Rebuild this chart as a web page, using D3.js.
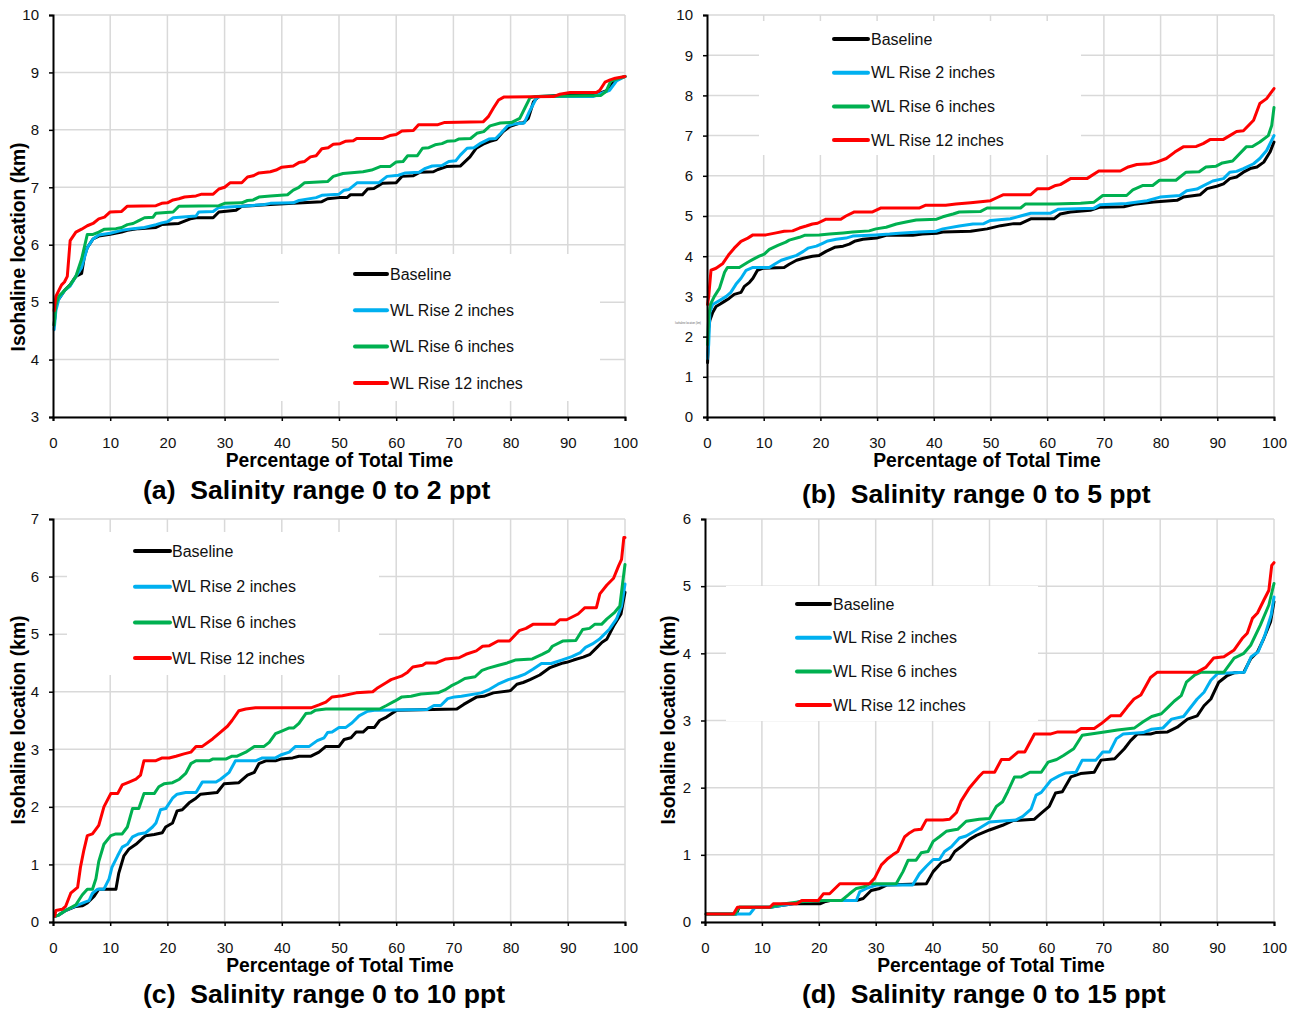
<!DOCTYPE html>
<html><head><meta charset="utf-8">
<script src="https://cdn.jsdelivr.net/npm/d3@7"></script>
<style>
body{margin:0;background:#fff;}
svg{display:block;font-family:"Liberation Sans",Arial,sans-serif;}
</style></head>
<body><svg id="chart" width="1299" height="1011"></svg>
<script>
// ---------------- DATA ----------------
const seriesNames = ["Baseline","WL Rise 2 inches","WL Rise 6 inches","WL Rise 12 inches"];
const panelTitles = ["(a)  Salinity range 0 to 2 ppt","(b)  Salinity range 0 to 5 ppt","(c)  Salinity range 0 to 10 ppt","(d)  Salinity range 0 to 15 ppt"];
const xTitle = "Percentage of Total Time";
const yTitle = "Isohaline location (km)";
const xTicks = [0,10,20,30,40,50,60,70,80,90,100];
const yTicksA = [3,4,5,6,7,8,9,10];
const yTicksB = [0,1,2,3,4,5,6,7,8,9,10];
const yTicksC = [0,1,2,3,4,5,6,7];
const yTicksD = [0,1,2,3,4,5,6];

const a_baseline = [[0.2,4.6],[0.5,5.0],[1,5.05],[2,5.2],[3,5.3],[4,5.45],[5,5.5],[5.5,5.8],[6,5.95],[7,6.1],[8,6.15],[10,6.18],[12,6.22],[13,6.25],[15,6.28],[18,6.3],[19,6.35],[22,6.37],[24,6.45],[25,6.47],[28,6.47],[29,6.57],[32,6.6],[33,6.67],[38,6.7],[42,6.72],[47,6.75],[48,6.8],[50,6.82],[51.4,6.82],[52,6.87],[54.1,6.87],[55,6.97],[56.1,6.98],[57.6,7.07],[60,7.08],[61,7.19],[63,7.2],[64.1,7.26],[66.5,7.27],[67.3,7.31],[68.8,7.36],[71.2,7.37],[72.9,7.53],[74,7.68],[75.2,7.75],[76.4,7.8],[77.5,7.83],[78.7,7.97],[79.9,8.06],[81.6,8.12],[82.2,8.12],[83.1,8.2],[84,8.49],[84.9,8.58],[88.6,8.6],[94.6,8.6],[95.2,8.62],[97,8.69],[98.1,8.85],[99.3,8.9],[100,8.93]];
const a_rise2 = [[0.2,4.52],[0.5,4.85],[1,5.05],[2,5.2],[3,5.28],[4,5.45],[5,5.6],[6,5.95],[7,6.1],[8,6.17],[10,6.2],[12,6.25],[14,6.28],[16,6.3],[18,6.35],[19,6.38],[20,6.4],[21,6.47],[25,6.5],[25.5,6.57],[28,6.58],[29,6.65],[33,6.67],[37,6.7],[38,6.72],[42,6.73],[43,6.77],[46,6.82],[47,6.86],[50,6.88],[50.9,6.95],[51.7,6.96],[53.2,7.08],[57,7.08],[58.4,7.19],[60.4,7.21],[61.6,7.25],[64,7.26],[65.1,7.33],[66.3,7.37],[68,7.38],[69.2,7.45],[70.4,7.46],[71.2,7.56],[72.4,7.68],[73.6,7.69],[74.8,7.77],[76.2,7.84],[77.4,7.85],[78.3,7.94],[79.5,8.07],[80.6,8.1],[82.4,8.12],[83.3,8.32],[84.5,8.55],[85.1,8.58],[94.4,8.58],[95.5,8.62],[97.3,8.69],[98.5,8.85],[100,8.93]];
const a_rise6 = [[0.2,4.6],[0.5,4.95],[1,5.1],[2,5.2],[3,5.3],[4,5.45],[5,5.75],[6,6.18],[7,6.18],[8,6.22],[9,6.27],[11,6.28],[12,6.3],[13,6.35],[14,6.37],[15,6.42],[16,6.47],[17.5,6.48],[18,6.55],[21,6.57],[22,6.67],[29,6.68],[30,6.72],[33,6.73],[34,6.77],[35,6.78],[36,6.83],[38,6.85],[41,6.87],[42,6.95],[43,7.0],[44,7.08],[48,7.1],[49,7.19],[50.7,7.24],[54.2,7.27],[55.7,7.3],[57.2,7.36],[58.9,7.36],[60,7.44],[61.2,7.45],[62,7.55],[63.7,7.55],[64.6,7.68],[65.7,7.69],[66.8,7.74],[68,7.76],[68.9,7.8],[70.3,7.81],[70.9,7.84],[73,7.85],[74.1,7.94],[75.3,7.97],[76.4,8.07],[78.2,8.12],[80.2,8.13],[81.6,8.2],[82.5,8.38],[83.4,8.56],[84.3,8.58],[95.8,8.6],[96.7,8.67],[97.5,8.85],[98.7,8.89],[100,8.93]];
const a_rise12 = [[0.2,4.85],[0.5,5.1],[1,5.2],[1.5,5.3],[2,5.35],[2.5,5.45],[3,6.07],[4,6.22],[5,6.27],[6,6.33],[7,6.37],[8,6.45],[9,6.48],[10,6.57],[12,6.58],[13,6.67],[18,6.68],[19,6.72],[20,6.73],[21,6.78],[22,6.8],[23,6.83],[25,6.85],[26,6.88],[28,6.88],[29,6.97],[30,7.0],[31,7.08],[33,7.08],[34,7.18],[35,7.2],[36,7.25],[38,7.27],[39,7.3],[40,7.35],[42,7.37],[43,7.43],[44,7.45],[45,7.53],[46,7.55],[47,7.67],[48.1,7.69],[49,7.75],[50.2,7.76],[51.1,7.8],[52.5,7.81],[53.1,7.85],[57.7,7.85],[58.9,7.9],[60,7.92],[61,7.98],[63,7.99],[63.9,8.09],[67.3,8.09],[68.5,8.13],[75.2,8.14],[76.1,8.23],[77,8.38],[77.9,8.52],[78.8,8.57],[87.5,8.58],[88.6,8.62],[90.4,8.65],[95,8.65],[95.6,8.69],[96.5,8.83],[97.4,8.87],[98.3,8.9],[100,8.93]];

const b_baseline = [[0.1,1.35],[0.3,2.2],[0.5,2.4],[1,2.6],[1.6,2.75],[2.2,2.8],[3,2.87],[3.9,2.95],[4.8,3.05],[6,3.1],[6.6,3.25],[7.5,3.35],[8.1,3.45],[8.9,3.65],[9.8,3.7],[13.6,3.72],[14.5,3.8],[15.8,3.9],[17,3.95],[18.6,4.0],[19.8,4.02],[21,4.12],[22.5,4.22],[24,4.25],[25.1,4.3],[26,4.37],[27.5,4.42],[29.9,4.45],[31.6,4.52],[36.3,4.52],[38,4.55],[40.5,4.57],[41.6,4.6],[46.5,4.62],[49.4,4.68],[51.8,4.76],[54.1,4.81],[55.3,4.81],[57.1,4.93],[61.2,4.93],[62.3,5.05],[64.1,5.1],[67.6,5.14],[69.3,5.22],[73.5,5.23],[75.3,5.29],[78.8,5.35],[82.9,5.39],[84,5.47],[87,5.53],[88.2,5.68],[89.9,5.74],[91.1,5.8],[92.2,5.93],[93.4,5.97],[94.6,6.09],[95.8,6.18],[97,6.22],[98.2,6.34],[99.3,6.59],[100,6.84]];
const b_rise2 = [[0.1,1.45],[0.3,1.8],[0.5,2.6],[1,2.8],[2.2,2.9],[3.4,3.0],[4.2,3.1],[5.1,3.3],[6,3.45],[6.9,3.65],[8.1,3.72],[11,3.72],[11.9,3.8],[13.1,3.9],[14.2,3.95],[15.8,4.02],[17,4.12],[17.8,4.2],[19.3,4.25],[20.4,4.32],[21.3,4.38],[22.8,4.42],[24.5,4.45],[25.7,4.5],[29.8,4.53],[32.2,4.55],[33.9,4.57],[37.4,4.6],[40.4,4.62],[41.6,4.68],[44.5,4.75],[46.9,4.8],[48.8,4.81],[50,4.89],[53.5,4.93],[55.3,5.0],[57.1,5.07],[60.6,5.07],[62,5.17],[68.2,5.19],[69.3,5.28],[74,5.31],[77.6,5.38],[79.9,5.47],[83.4,5.51],[84.6,5.63],[86.4,5.67],[87.5,5.75],[89.2,5.87],[91.1,5.93],[92.2,6.09],[93.4,6.11],[94.6,6.18],[96.4,6.3],[97.5,6.43],[98.7,6.63],[100,7.0]];
const b_rise6 = [[0.1,1.8],[0.3,2.5],[0.6,2.8],[1.3,3.0],[2.2,3.2],[3.1,3.6],[3.6,3.72],[5.7,3.72],[7.2,3.85],[8.1,3.92],[9.2,4.0],[10.1,4.05],[11,4.17],[12.5,4.27],[13.9,4.35],[14.5,4.4],[16.3,4.47],[17.2,4.52],[19.8,4.53],[21.6,4.55],[24,4.58],[25.7,4.6],[28.6,4.63],[29.8,4.68],[31.6,4.72],[33.4,4.8],[35.1,4.85],[36.9,4.9],[40.5,4.92],[41.6,4.98],[43.4,5.05],[44.5,5.1],[48.2,5.11],[49.4,5.2],[55.3,5.2],[56.2,5.3],[61.2,5.3],[65.9,5.32],[68.2,5.34],[69.8,5.51],[74,5.51],[75.1,5.65],[76.9,5.76],[78.6,5.76],[79.8,5.89],[82.7,5.89],[84.5,6.09],[86.8,6.1],[88,6.22],[89.8,6.24],[90.9,6.32],[92.7,6.37],[95.1,6.72],[96.2,6.73],[97.5,6.84],[99,7.0],[99.6,7.25],[100,7.7]];
const b_rise12 = [[0.1,2.8],[0.3,3.0],[0.7,3.65],[1.6,3.7],[2.8,3.82],[3.9,4.05],[4.8,4.2],[6,4.37],[7.2,4.45],[8.1,4.53],[10.4,4.53],[12.2,4.58],[13.6,4.62],[15.1,4.63],[16.3,4.7],[17.5,4.75],[18.6,4.8],[19.5,4.82],[21,4.92],[23.6,4.92],[24.5,5.0],[26,5.1],[29.2,5.1],[30.7,5.2],[37.5,5.2],[38.6,5.27],[42.1,5.27],[43.9,5.3],[46.5,5.33],[50,5.38],[51.2,5.46],[52.3,5.53],[57.1,5.53],[58.3,5.68],[60.3,5.68],[61.5,5.76],[62.3,5.78],[64.1,5.93],[67,5.93],[69.1,6.12],[72.9,6.12],[74.3,6.22],[75.8,6.28],[78.1,6.3],[79.3,6.34],[81,6.43],[82.5,6.59],[84,6.72],[86.3,6.73],[87.5,6.8],[88.7,6.9],[91,6.9],[92.2,7.0],[93.4,7.1],[94.6,7.12],[96.4,7.38],[97.5,7.8],[98.7,7.92],[100,8.17]];

const c_baseline = [[0.3,0.1],[1,0.12],[2.2,0.2],[4,0.27],[5.1,0.28],[6,0.33],[7.2,0.45],[8,0.57],[11,0.57],[11.5,0.85],[12.4,1.15],[13.3,1.27],[14.5,1.35],[15.6,1.45],[16.2,1.5],[17.7,1.52],[19.1,1.55],[19.7,1.65],[20.9,1.72],[21.7,1.93],[22.6,1.95],[23.8,2.07],[25,2.15],[25.8,2.22],[28.7,2.25],[29.9,2.4],[32.5,2.42],[34,2.55],[35.2,2.6],[36,2.75],[37.2,2.8],[38.9,2.8],[39.8,2.83],[41.9,2.85],[43,2.88],[45.1,2.88],[46.5,2.95],[47.7,3.05],[50,3.05],[50.9,3.17],[52.1,3.2],[53,3.3],[54.2,3.3],[55.1,3.38],[56.2,3.38],[57.1,3.5],[58.3,3.56],[60.1,3.68],[70.6,3.7],[71.8,3.78],[74.1,3.91],[75.3,3.92],[77,3.98],[80,4.02],[81.1,4.13],[82.2,4.16],[83.4,4.21],[85.1,4.29],[86.9,4.42],[88,4.46],[89.2,4.5],[89.8,4.51],[91,4.55],[92.7,4.6],[93.9,4.65],[95.1,4.77],[96,4.86],[96.8,4.91],[98,5.14],[99.3,5.35],[100,5.73]];
const c_rise2 = [[0.3,0.1],[1,0.12],[2.2,0.2],[4.5,0.3],[5.7,0.35],[6.3,0.37],[6.9,0.5],[7.8,0.57],[8.9,0.57],[9.8,0.75],[10.3,0.95],[11.3,1.15],[12.1,1.3],[13,1.35],[13.9,1.48],[15,1.53],[16.2,1.55],[17.4,1.65],[18,1.72],[18.8,1.95],[19.7,1.97],[20.9,2.15],[21.7,2.22],[23.2,2.25],[25,2.25],[26.1,2.43],[28.5,2.43],[29.3,2.48],[30.8,2.6],[31.9,2.8],[35.4,2.8],[36.6,2.85],[38.9,2.85],[39.8,2.9],[41.3,2.95],[42.4,3.05],[44.8,3.05],[46.2,3.15],[47.4,3.2],[48,3.29],[48.8,3.3],[50,3.38],[51.2,3.38],[52.3,3.46],[53.5,3.58],[55,3.66],[56.5,3.68],[65.4,3.69],[66.6,3.76],[67.8,3.76],[69,3.88],[70.2,3.91],[71.4,3.92],[74.9,3.98],[76.1,4.03],[77.8,4.13],[79.6,4.21],[81.3,4.26],[82.4,4.3],[83.9,4.39],[85.4,4.49],[87.1,4.49],[88.9,4.55],[90.7,4.61],[92.2,4.68],[93.1,4.77],[94.3,4.83],[95.5,4.91],[97.3,5.09],[98.5,5.26],[99.4,5.49],[100,5.87]];
const c_rise6 = [[0.3,0.1],[1,0.12],[2.2,0.2],[4,0.3],[5.1,0.47],[6,0.57],[6.9,0.57],[7.5,0.75],[8,1.05],[8.9,1.35],[10.1,1.5],[11,1.53],[12.1,1.53],[13,1.65],[13.9,1.97],[15,1.97],[15.9,2.23],[17.7,2.23],[18.5,2.35],[19.4,2.4],[20.9,2.42],[22.1,2.48],[23.2,2.58],[24.1,2.75],[25,2.8],[27.3,2.8],[27.9,2.83],[30.2,2.83],[31.3,2.88],[32.2,2.88],[33.7,2.95],[35.2,3.05],[36.9,3.05],[37.8,3.12],[38.9,3.27],[40.1,3.32],[41.3,3.37],[42.1,3.37],[43,3.45],[44.2,3.62],[45.1,3.63],[45.9,3.68],[47.7,3.7],[57.1,3.7],[58.3,3.76],[59.8,3.84],[61,3.91],[62.6,3.92],[64.3,3.96],[67.3,3.98],[68.5,4.03],[69.6,4.1],[70.8,4.16],[72,4.23],[73.8,4.26],[75,4.37],[76.1,4.41],[77.9,4.46],[79.4,4.5],[80.8,4.55],[83.8,4.57],[85.5,4.65],[86.7,4.71],[87.3,4.79],[89.1,4.88],[91.4,4.89],[92.6,5.08],[93.8,5.1],[94.7,5.17],[95.9,5.17],[96.8,5.26],[98.2,5.38],[99.1,5.49],[99.6,5.9],[100,6.21]];
const c_rise12 = [[0.3,0.1],[0.5,0.2],[1.6,0.22],[2.2,0.27],[3.1,0.5],[4.3,0.6],[4.8,0.95],[5.4,1.25],[6,1.5],[6.9,1.53],[8,1.68],[8.9,2.0],[10.1,2.23],[11.3,2.23],[12.1,2.38],[13.3,2.43],[14.5,2.48],[15.3,2.55],[15.9,2.8],[17.9,2.8],[19.1,2.85],[20.3,2.85],[21.5,2.88],[22.9,2.92],[24.1,2.95],[25,3.05],[26.1,3.05],[27.9,3.18],[29.3,3.3],[30.5,3.4],[31.3,3.5],[32.5,3.67],[33.7,3.7],[35.4,3.72],[45.1,3.72],[46.5,3.77],[47.7,3.82],[48.8,3.91],[50.6,3.93],[53,3.98],[55.9,4.0],[56.8,4.07],[58.3,4.16],[59.1,4.21],[60.9,4.27],[62,4.34],[62.9,4.43],[64.6,4.46],[65.2,4.5],[67,4.5],[68.7,4.57],[71,4.59],[72.2,4.65],[74,4.71],[75.1,4.79],[76.3,4.8],[77.8,4.88],[79.8,4.88],[81.5,5.06],[82.7,5.1],[83.9,5.17],[87.7,5.17],[88.6,5.25],[89.8,5.25],[91.8,5.35],[93,5.46],[95,5.46],[95.6,5.7],[96.8,5.85],[98,5.97],[98.9,6.19],[99.4,6.3],[99.8,6.68],[100,6.68]];

const d_baseline = [[0.2,0.12],[5.5,0.12],[6,0.22],[11.4,0.22],[13.7,0.25],[15.5,0.27],[20.2,0.27],[21,0.3],[22,0.32],[26.6,0.32],[27.8,0.35],[29.2,0.47],[30.7,0.5],[31.9,0.55],[38.9,0.57],[40.1,0.75],[41.5,0.88],[43,0.93],[43.9,1.05],[45,1.12],[46.5,1.23],[47.7,1.29],[50,1.37],[52.3,1.44],[54.1,1.51],[57.9,1.53],[59.1,1.62],[60.5,1.72],[61.6,1.92],[62.8,1.94],[64.3,2.16],[66,2.21],[68.4,2.23],[69.6,2.41],[72,2.43],[73.7,2.58],[74.8,2.7],[76,2.8],[78.3,2.8],[79.2,2.82],[81.3,2.83],[83,2.9],[84.8,3.02],[86.5,3.07],[87.7,3.22],[88.9,3.32],[90.3,3.57],[91.8,3.67],[93,3.71],[94.7,3.72],[95.9,3.92],[97.1,4.02],[98.2,4.22],[99.4,4.47],[100,4.77]];
const d_rise2 = [[0.2,0.12],[7.9,0.12],[8.8,0.22],[11.4,0.22],[13.7,0.25],[15.5,0.27],[16.4,0.3],[19,0.32],[26.6,0.32],[27.2,0.45],[28.4,0.5],[30.1,0.55],[36.5,0.55],[37.7,0.72],[38.9,0.83],[40.1,0.93],[41.2,0.93],[42.1,1.05],[43.3,1.12],[44.7,1.25],[45.9,1.28],[47.7,1.37],[50,1.49],[54.7,1.52],[55.8,1.57],[57.3,1.68],[58.2,1.89],[59.1,1.93],[60.8,2.11],[62.3,2.18],[63.4,2.22],[65.2,2.23],[66.3,2.41],[68.7,2.41],[69.9,2.53],[71.1,2.53],[72.3,2.73],[73.5,2.8],[77,2.82],[78.5,2.87],[80.5,2.89],[82,3.02],[84.1,3.06],[86.5,3.32],[87.7,3.42],[88.9,3.6],[90.1,3.7],[94.8,3.72],[96,3.95],[97.2,4.02],[98.4,4.27],[99.5,4.57],[100,4.84]];
const d_rise6 = [[0.2,0.12],[5.3,0.12],[6,0.22],[11.4,0.22],[13.7,0.27],[16.7,0.3],[20.8,0.32],[24,0.32],[25.4,0.42],[26.6,0.5],[27.8,0.52],[29,0.57],[33.6,0.57],[34.8,0.75],[35.7,0.92],[37.1,0.92],[38,1.03],[39.2,1.05],[40.1,1.2],[41.2,1.27],[42.4,1.35],[43.6,1.37],[44.4,1.38],[45.9,1.5],[48.2,1.53],[50,1.54],[51.2,1.72],[52.3,1.79],[53.2,1.94],[54.4,2.16],[55.6,2.16],[57.1,2.23],[59.1,2.23],[60.3,2.38],[61.8,2.42],[63,2.48],[64.8,2.58],[66.3,2.78],[67.8,2.8],[70.2,2.83],[72.5,2.86],[75.5,2.89],[77,2.98],[78.5,3.06],[80.2,3.1],[81.4,3.2],[82.5,3.29],[83.7,3.37],[84.6,3.57],[86.1,3.68],[87.2,3.72],[91.2,3.72],[93,3.93],[94.7,4.0],[95.9,4.12],[97.6,4.42],[99.1,4.72],[100,5.04]];
const d_rise12 = [[0.2,0.12],[5,0.12],[5.7,0.22],[11.4,0.22],[12,0.27],[16.1,0.27],[17,0.32],[19.9,0.32],[20.8,0.42],[21.9,0.42],[23.7,0.57],[28.9,0.57],[29.8,0.65],[31,0.85],[32.2,0.95],[33,1.0],[33.9,1.05],[35.1,1.27],[36,1.33],[36.8,1.37],[38,1.38],[38.9,1.52],[41.8,1.52],[43,1.53],[44.2,1.63],[45,1.8],[46.5,2.0],[48.2,2.17],[48.9,2.23],[50.9,2.23],[52.1,2.42],[53.5,2.42],[55,2.53],[56.2,2.53],[57.9,2.8],[60.8,2.8],[62,2.83],[65.2,2.83],[66.1,2.88],[68.4,2.88],[69.6,2.95],[71.3,3.07],[73,3.07],[74.2,3.2],[75.4,3.32],[76.6,3.38],[78.3,3.64],[79.5,3.72],[86.5,3.72],[88,3.79],[89.4,3.93],[91.2,3.95],[93,4.05],[94.4,4.22],[95.3,4.3],[96.2,4.52],[97.1,4.6],[98.2,4.79],[99.1,4.94],[99.6,5.31],[100,5.35]];

// ---------------- STYLE / LAYOUT ----------------
const seriesColors = ["#000000","#00B0F0","#00B050","#FF0000"];
const svg = d3.select("#chart");

const panels = [
  {series:[a_baseline,a_rise2,a_rise6,a_rise12], yTicks:yTicksA, title:panelTitles[0],
   L:53,R:625,T:15,B:417, leg:{x:279,y:254,w:321,h:147,lx1:355,lx2:387,tx:390,y0:274,dy:36.3},
   yt:{x:18,y:247}, xt:{x:339.5,y:467}, st:{x:143,y:499}},
  {series:[b_baseline,b_rise2,b_rise6,b_rise12], yTicks:yTicksB, title:panelTitles[1],
   L:707,R:1274,T:15,B:417, leg:{x:759,y:21,w:322,h:134,lx1:834,lx2:868,tx:871,y0:39,dy:33.7},
   yt:null, xt:{x:987,y:467}, st:{x:802,y:503}},
  {series:[c_baseline,c_rise2,c_rise6,c_rise12], yTicks:yTicksC, title:panelTitles[2],
   L:53,R:625,T:519,B:922, leg:{x:67,y:532,w:312,h:143,lx1:135,lx2:170,tx:172,y0:551,dy:35.7},
   yt:{x:18,y:720}, xt:{x:340,y:972}, st:{x:143,y:1003}},
  {series:[d_baseline,d_rise2,d_rise6,d_rise12], yTicks:yTicksD, title:panelTitles[3],
   L:705,R:1274,T:519,B:922, leg:{x:726,y:586,w:312,h:135,lx1:797,lx2:830,tx:833,y0:604,dy:33.7},
   yt:{x:668,y:720}, xt:{x:991,y:972}, st:{x:802,y:1003}}
];

panels.forEach((p,pi)=>{
  const g = svg.append("g");
  const yExt = d3.extent(p.yTicks);
  const x = d3.scaleLinear().domain([0,100]).range([p.L,p.R]);
  const y = d3.scaleLinear().domain(yExt).range([p.B,p.T]);

  // gridlines
  const grid = g.append("g").attr("stroke","#d9d9d9").attr("stroke-width",1.5);
  grid.selectAll("line.h").data(p.yTicks).join("line")
    .attr("x1",p.L).attr("x2",p.R).attr("y1",d=>y(d)).attr("y2",d=>y(d));
  grid.selectAll("line.v").data(xTicks.filter(d=>d>0)).join("line")
    .attr("x1",d=>x(d)).attr("x2",d=>x(d)).attr("y1",p.T).attr("y2",p.B);

  // legend background
  g.append("rect").attr("x",p.leg.x).attr("y",p.leg.y).attr("width",p.leg.w).attr("height",p.leg.h).attr("fill","#fff");

  // series
  const line = d3.line().x(d=>x(d[0])).y(d=>y(d[1]));
  p.series.forEach((s,i)=>{
    g.append("path").datum(s).attr("d",line).attr("fill","none")
      .attr("stroke",seriesColors[i]).attr("stroke-width",3).attr("stroke-linejoin","round").attr("stroke-linecap","round");
  });

  // axes
  const xAxis = d3.axisBottom(x).tickValues(xTicks).tickSize(4).tickPadding(10).tickFormat(d3.format("d"));
  const yAxis = d3.axisLeft(y).tickValues(p.yTicks).tickSize(4).tickPadding(10).tickFormat(d3.format("d"));
  const gx = g.append("g").attr("transform",`translate(0,${p.B})`).call(xAxis);
  const gy = g.append("g").attr("transform",`translate(${p.L},0)`).call(yAxis);
  [gx,gy].forEach(a=>{
    a.select(".domain").attr("stroke","#000").attr("stroke-width",2);
    a.selectAll(".tick line").attr("stroke","#000").attr("stroke-width",1.5);
    a.selectAll(".tick text").attr("font-size",15).attr("fill","#111").attr("font-family","Liberation Sans, Arial, sans-serif");
  });
  gx.selectAll(".tick text").attr("dy","1.15em");

  // legend
  seriesNames.forEach((n,i)=>{
    const ly = p.leg.y0 + i*p.leg.dy;
    g.append("line").attr("x1",p.leg.lx1).attr("x2",p.leg.lx2).attr("y1",ly).attr("y2",ly)
      .attr("stroke",seriesColors[i]).attr("stroke-width",4).attr("stroke-linecap","round");
    g.append("text").attr("x",p.leg.tx).attr("y",ly).attr("dy","0.35em").attr("font-size",16).attr("fill","#111").text(n);
  });

  // axis titles
  g.append("text").attr("x",p.xt.x).attr("y",p.xt.y).attr("text-anchor","middle")
    .attr("font-size",19.3).attr("font-weight","bold").attr("fill","#000").text(xTitle);
  if(p.yt){
    g.append("text").attr("transform",`translate(${p.yt.x},${p.yt.y}) rotate(-90)`).attr("text-anchor","middle")
      .attr("dy","0.35em").attr("font-size",19.3).attr("font-weight","bold").attr("fill","#000").text(yTitle);
  }
  // panel subtitle
  g.append("text").attr("x",p.st.x).attr("y",p.st.y).attr("font-size",26.6).attr("font-weight","bold")
    .attr("fill","#000").style("white-space","pre").text(p.title);
});

// tiny residual label near panel (b) axis
svg.append("text").attr("x",675).attr("y",324).attr("font-size",2.6).attr("fill","#666").text(yTitle);
</script></body></html>
